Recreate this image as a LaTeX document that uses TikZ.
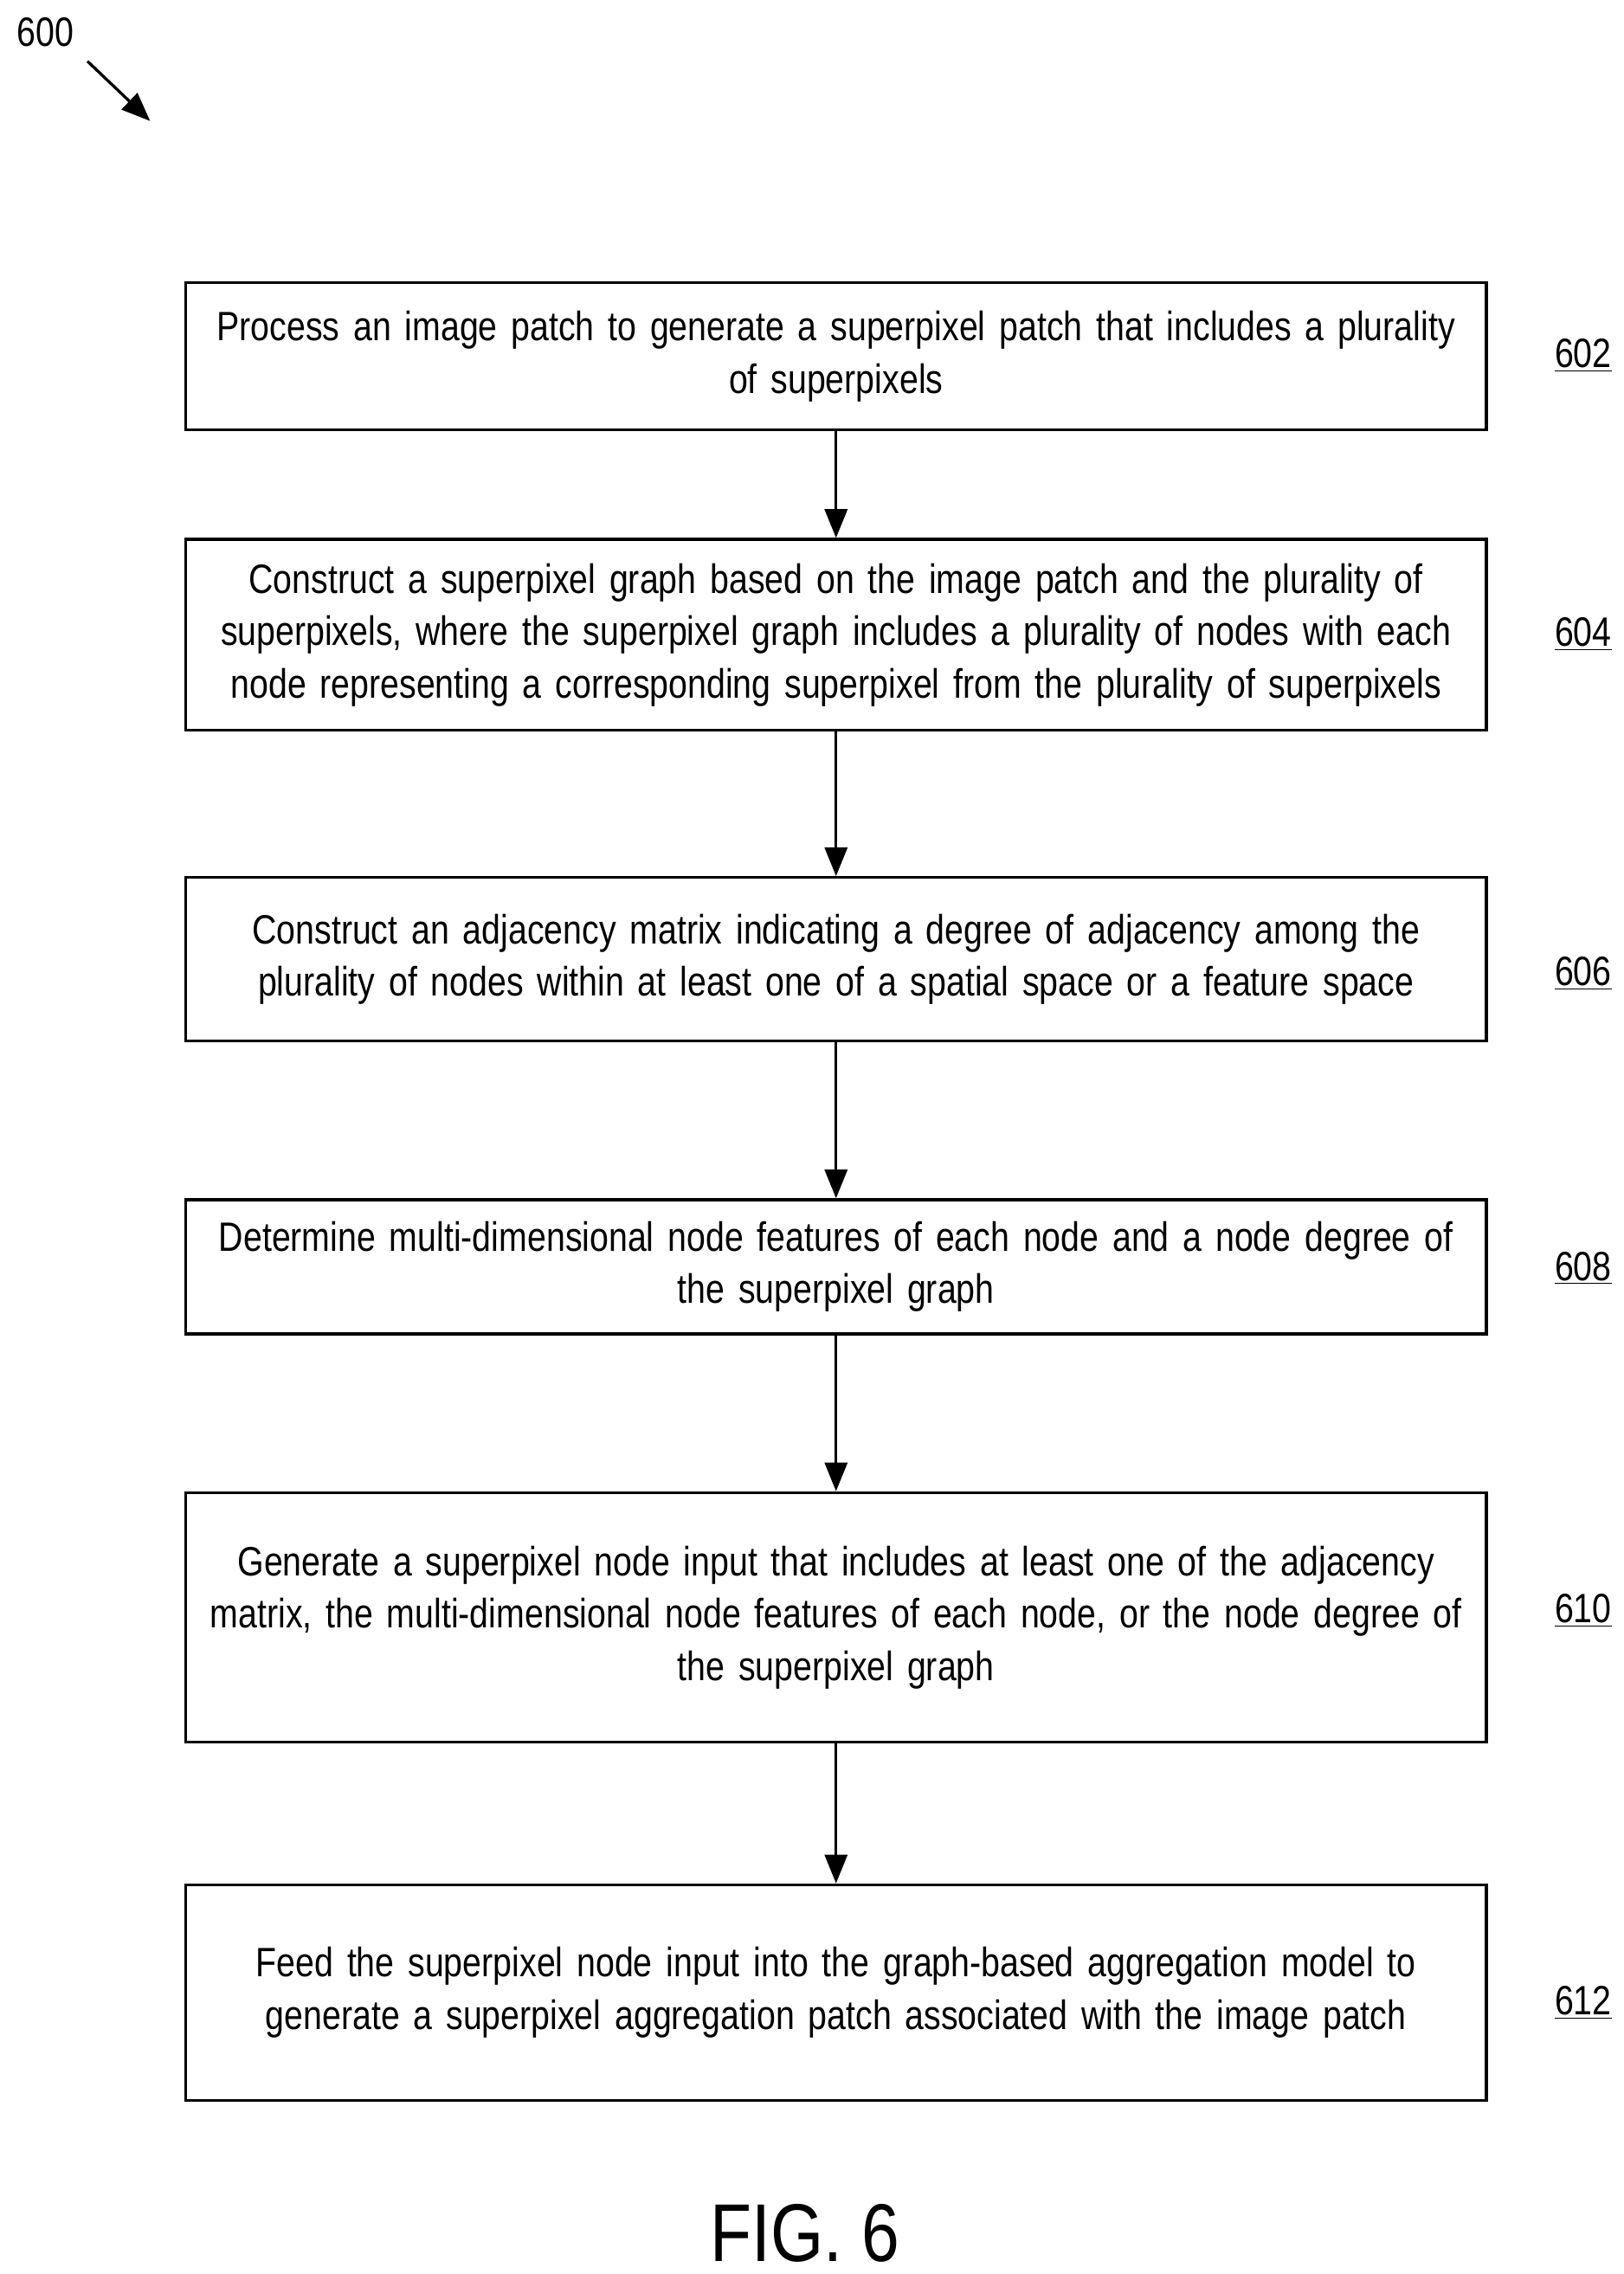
\documentclass[tikz,border=0pt]{standalone}
\usepackage{fontspec}
\setmainfont{Liberation Sans}[FakeStretch=0.83]
\usetikzlibrary{arrows.meta}
\begin{document}
\begin{tikzpicture}[x=0.025cm, y=-0.025cm,
  box/.style={draw, line width=1.4pt, minimum width=22.3cm, align=center, text width=22.1cm, inner xsep=0pt, font=\fontsize{20}{25.6}\selectfont},
  ref/.style={font=\fontsize{20}{24}\selectfont},
  flow/.style={-{Triangle[length=14pt, width=11pt]}, line width=1.4pt}]
  \useasboundingbox (0,0) rectangle (1114,1560);

  % Steps
  \node[box, minimum height=2.525cm] (S602) at (573.5,244.5) {Process an image patch to generate a superpixel patch that includes a plurality\\of superpixels};
  \node[box, minimum height=3.275cm] (S604) at (573.5,435.5) {Construct a superpixel graph based on the image patch and the plurality of\\superpixels, where the superpixel graph includes a plurality of nodes with each\\node representing a corresponding superpixel from the plurality of superpixels};
  \node[box, minimum height=2.8cm] (S606) at (573.5,658) {Construct an adjacency matrix indicating a degree of adjacency among the\\plurality of nodes within at least one of a spatial space or a feature space};
  \node[box, minimum height=2.3cm] (S608) at (573.5,869) {Determine multi-dimensional node features of each node and a node degree of\\the superpixel graph};
  \node[box, minimum height=4.275cm] (S610) at (573.5,1109.5) {Generate a superpixel node input that includes at least one of the adjacency\\matrix, the multi-dimensional node features of each node, or the node degree of\\the superpixel graph};
  \node[box, minimum height=3.7cm] (S612) at (573.5,1367) {Feed the superpixel node input into the graph-based aggregation model to\\generate a superpixel aggregation patch associated with the image patch};

  % Reference numbers
  \node[ref] (L602) at (1086,244) {\underline{602}};
  \node[ref] (L604) at (1086,435) {\underline{604}};
  \node[ref] (L606) at (1086,668) {\underline{606}};
  \node[ref] (L608) at (1086,870) {\underline{608}};
  \node[ref] (L610) at (1086,1105) {\underline{610}};
  \node[ref] (L612) at (1086,1374) {\underline{612}};

  % Arrows
  \draw[flow] (S602) -- (S604);
  \draw[flow] (S604) -- (S606);
  \draw[flow] (S606) -- (S608);
  \draw[flow] (S608) -- (S610);
  \draw[flow] (S610) -- (S612);

  % Figure number
  \node[ref] (N600) at (31,22) {600};
  \coordinate (P600) at (103,83);
  \draw[flow] (60,42) -- (P600);
  \node[font=\fontsize{40}{46}\selectfont] (FIG) at (552,1532) {FIG. 6};
\end{tikzpicture}
\end{document}
